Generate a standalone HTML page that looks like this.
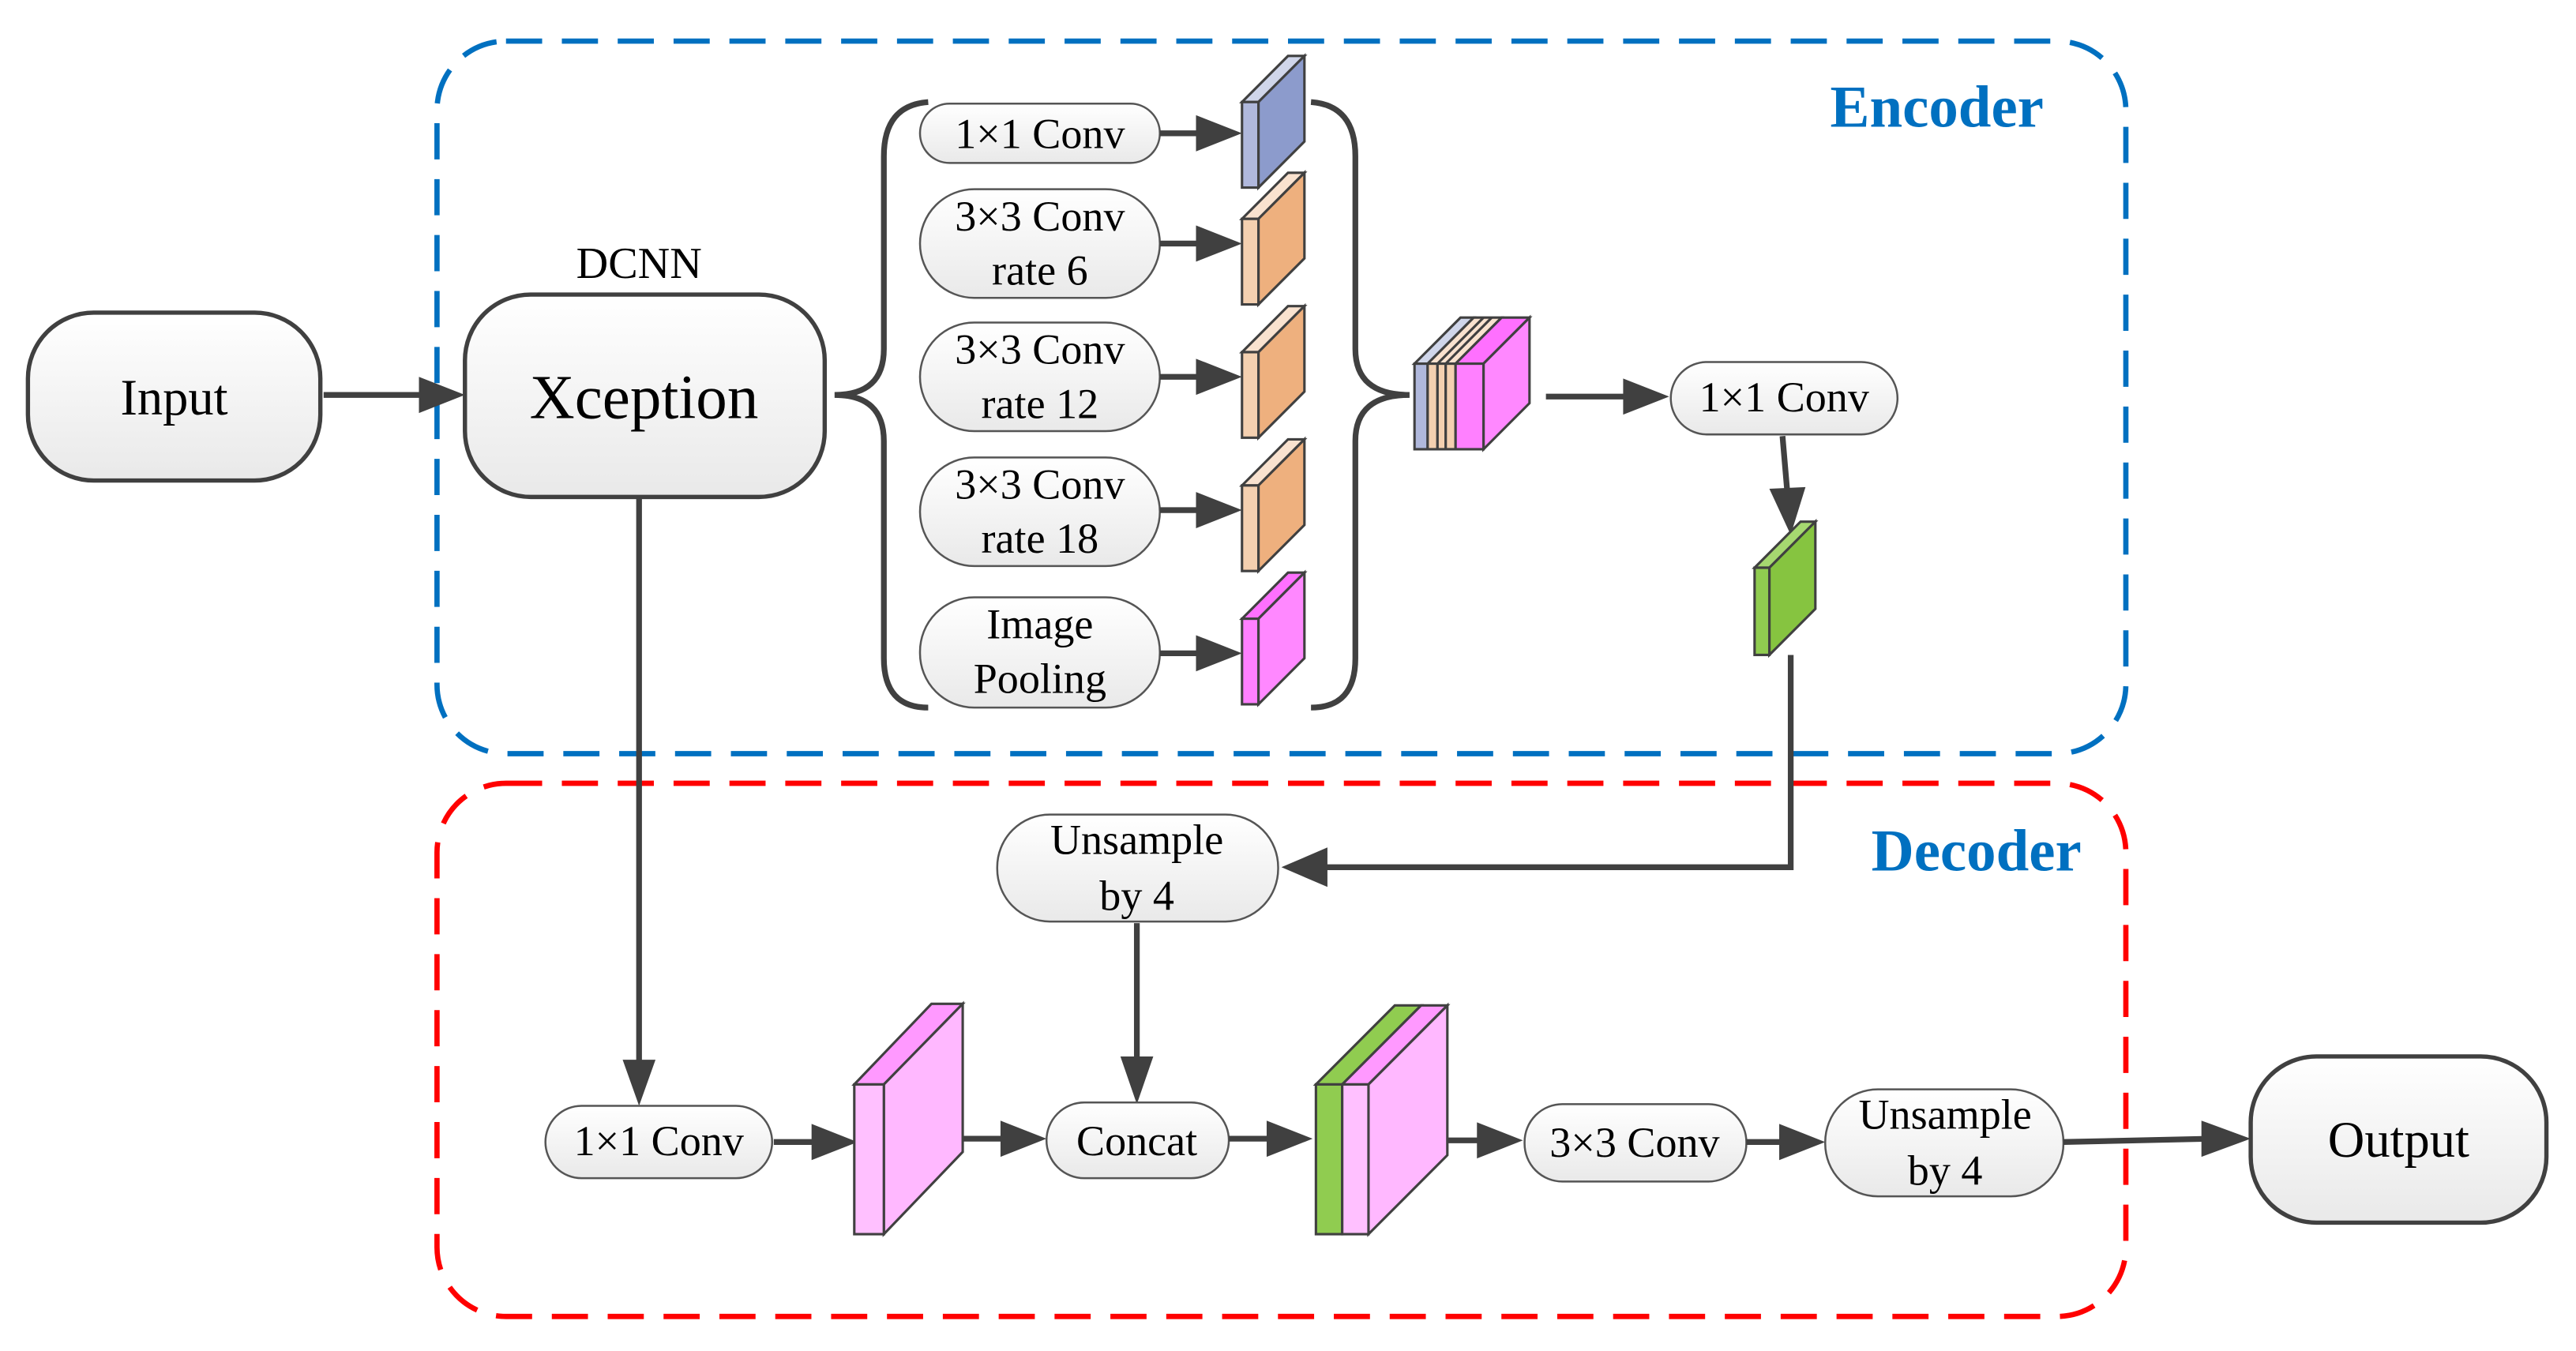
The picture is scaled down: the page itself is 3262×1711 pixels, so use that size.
<!DOCTYPE html>
<html><head><meta charset="utf-8"><style>html,body{margin:0;padding:0;background:#fff}svg{display:block}</style></head>
<body>
<svg width="3262" height="1711" viewBox="0 0 1568 821" preserveAspectRatio="none" xmlns="http://www.w3.org/2000/svg" font-family="Liberation Serif, serif">
<defs>
<linearGradient id="g" x1="0" y1="0" x2="0" y2="1"><stop offset="0" stop-color="#ffffff"/><stop offset="1" stop-color="#e9e9e9"/></linearGradient>
</defs>
<style>
.p{fill:url(#g);stroke:#555;stroke-width:1.2}
.b{fill:url(#g);stroke:#404040;stroke-width:2.6}
.l{stroke:#404040;stroke-width:3.5;fill:none}
.t{font-size:26px;text-anchor:middle;fill:#000}
.c{stroke:#404040;stroke-width:1.5}
</style>
<rect x="266" y="25" width="1028" height="433" rx="42" fill="none" stroke="#0070C0" stroke-width="3.2" stroke-dasharray="22 12"/>
<rect x="266" y="476" width="1028" height="324" rx="42" fill="none" stroke="#FF0000" stroke-width="3.2" stroke-dasharray="22 12"/>
<text x="1179" y="77" font-size="36" font-weight="bold" fill="#0070C0" text-anchor="middle">Encoder</text>
<text x="1203" y="529" font-size="36" font-weight="bold" fill="#0070C0" text-anchor="middle">Decoder</text>

<rect x="17" y="190" width="178" height="102" rx="40" class="b"/>
<text x="106" y="252" font-size="31" text-anchor="middle">Input</text>
<line x1="197" y1="240" x2="267" y2="240" class="l"/>
<path d="M255,229L283,240L255,251z" fill="#404040"/>
<rect x="283" y="179" width="219" height="123" rx="40" class="b"/>
<text x="392" y="254" font-size="38" text-anchor="middle">Xception</text>
<text x="389" y="169" font-size="27" text-anchor="middle">DCNN</text>

<path d="M565,62 Q538,64 538,95 L538,212 Q538,240 508,240 Q538,240 538,268 L538,400 Q538,430 565,430" class="l"/>
<path d="M798,62 Q825,64 825,95 L825,212 Q825,240 858,240 Q825,240 825,268 L825,400 Q825,430 798,430" class="l"/>

<rect x="560" y="63" width="146" height="36" rx="18" class="p"/>
<text x="633" y="90" class="t">1×1 Conv</text>
<rect x="560" y="115" width="146" height="66" rx="33" class="p"/>
<text x="633" y="140" class="t">3×3 Conv</text><text x="633" y="173" class="t">rate 6</text>
<rect x="560" y="196" width="146" height="66" rx="33" class="p"/>
<text x="633" y="221" class="t">3×3 Conv</text><text x="633" y="254" class="t">rate 12</text>
<rect x="560" y="278" width="146" height="66" rx="33" class="p"/>
<text x="633" y="303" class="t">3×3 Conv</text><text x="633" y="336" class="t">rate 18</text>
<rect x="560" y="363" width="146" height="67" rx="33" class="p"/>
<text x="633" y="388" class="t">Image</text><text x="633" y="421" class="t">Pooling</text>

<g>
<line x1="706" y1="81" x2="735" y2="81" class="l"/><path d="M728,70L756,81L728,92z" fill="#404040"/>
<line x1="706" y1="148" x2="735" y2="148" class="l"/><path d="M728,137L756,148L728,159z" fill="#404040"/>
<line x1="706" y1="229" x2="735" y2="229" class="l"/><path d="M728,218L756,229L728,240z" fill="#404040"/>
<line x1="706" y1="310" x2="735" y2="310" class="l"/><path d="M728,299L756,310L728,321z" fill="#404040"/>
<line x1="706" y1="397" x2="735" y2="397" class="l"/><path d="M728,386L756,397L728,408z" fill="#404040"/>
</g>

<g class="c">
<path d="M756,62L784,34L794,34L766,62z" fill="#d0d6ea"/><path d="M766,62L794,34L794,86L766,114z" fill="#8c9bcc"/><rect x="756" y="62" width="10" height="52" fill="#b0b8dc"/>
<path d="M756,133L784,105L794,105L766,133z" fill="#f9e2cf"/><path d="M766,133L794,105L794,157L766,185z" fill="#eeb07e"/><rect x="756" y="133" width="10" height="52" fill="#f4d0b0"/>
<path d="M756,214L784,186L794,186L766,214z" fill="#f9e2cf"/><path d="M766,214L794,186L794,238L766,266z" fill="#eeb07e"/><rect x="756" y="214" width="10" height="52" fill="#f4d0b0"/>
<path d="M756,295L784,267L794,267L766,295z" fill="#f9e2cf"/><path d="M766,295L794,267L794,319L766,347z" fill="#eeb07e"/><rect x="756" y="295" width="10" height="52" fill="#f4d0b0"/>
<path d="M756,376L784,348L794,348L766,376z" fill="#ff70ff"/><path d="M766,376L794,348L794,400L766,428z" fill="#ff88ff"/><rect x="756" y="376" width="10" height="52" fill="#ff80ff"/>
</g>

<g class="c">
<path d="M861,221L889,193L897,193L869,221z" fill="#d0d6ea"/>
<path d="M869,221L897,193L914,193L886,221z" fill="#f9e2cf"/>
<path d="M875,221L903,193M880,221L908,193" fill="none"/>
<path d="M886,221L914,193L931,193L903,221z" fill="#ff70ff"/>
<path d="M903,221L931,193L931,245L903,273z" fill="#ff88ff"/>
<rect x="861" y="221" width="8" height="52" fill="#b0b8dc"/>
<rect x="869" y="221" width="6" height="52" fill="#f4d0b0"/>
<rect x="875" y="221" width="5" height="52" fill="#f4d0b0"/>
<rect x="880" y="221" width="6" height="52" fill="#f4d0b0"/>
<rect x="886" y="221" width="17" height="52" fill="#ff80ff"/>
</g>
<line x1="941" y1="241" x2="995" y2="241" class="l"/><path d="M988,230L1016,241L988,252z" fill="#404040"/>
<rect x="1017" y="220" width="138" height="44" rx="22" class="p"/>
<text x="1086" y="250" class="t">1×1 Conv</text>
<line x1="1085" y1="265" x2="1088" y2="300" class="l"/><path d="M1077,297L1090,325L1099,296z" fill="#404040"/>
<g class="c">
<path d="M1068,345L1096,317L1105,317L1077,345z" fill="#a6d870"/>
<path d="M1077,345L1105,317L1105,370L1077,398z" fill="#86c440"/>
<rect x="1068" y="345" width="9" height="53" fill="#90cc50"/>
</g>
<path d="M1090,398L1090,527L800,527" class="l"/>
<path d="M808,515L780,527L808,539z" fill="#404040"/>
<rect x="607" y="495" width="171" height="65" rx="32" class="p"/>
<text x="692" y="519" class="t">Unsample</text><text x="692" y="553" class="t">by 4</text>
<line x1="692" y1="561" x2="692" y2="645" class="l"/><path d="M682,642L692,671L702,642z" fill="#404040"/>

<line x1="389" y1="303" x2="389" y2="650" class="l"/><path d="M379,644L389,672L399,644z" fill="#404040"/>
<rect x="332" y="672" width="138" height="44" rx="22" class="p"/>
<text x="401" y="702" class="t">1×1 Conv</text>
<line x1="471" y1="694" x2="500" y2="694" class="l"/><path d="M494,683L522,694L494,705z" fill="#404040"/>
<g class="c">
<path d="M520,659L567,610L586,610L538,659z" fill="#ff99ff"/>
<path d="M538,659L586,610L586,700L538,750z" fill="#ffb8ff"/>
<rect x="520" y="659" width="18" height="91" fill="#ffc0ff"/>
</g>
<line x1="586" y1="692" x2="615" y2="692" class="l"/><path d="M609,681L637,692L609,703z" fill="#404040"/>
<rect x="637" y="670" width="111" height="46" rx="23" class="p"/>
<text x="692" y="702" class="t">Concat</text>
<line x1="748" y1="692" x2="778" y2="692" class="l"/><path d="M771,681L799,692L771,703z" fill="#404040"/>
<g class="c">
<path d="M801,659L849,611L865,611L817,659z" fill="#90cc50"/>
<path d="M817,659L865,611L881,611L833,659z" fill="#ff99ff"/>
<path d="M833,659L881,611L881,702L833,750z" fill="#ffb8ff"/>
<rect x="801" y="659" width="16" height="91" fill="#90cc50"/>
<rect x="817" y="659" width="16" height="91" fill="#ffc0ff"/>
</g>
<line x1="881" y1="693" x2="906" y2="693" class="l"/><path d="M899,682L927,693L899,704z" fill="#404040"/>
<rect x="928" y="671" width="135" height="47" rx="23" class="p"/>
<text x="995" y="703" class="t">3×3 Conv</text>
<line x1="1063" y1="694" x2="1090" y2="694" class="l"/><path d="M1083,683L1111,694L1083,705z" fill="#404040"/>
<rect x="1111" y="662" width="145" height="65" rx="32" class="p"/>
<text x="1184" y="686" class="t">Unsample</text><text x="1184" y="720" class="t">by 4</text>
<line x1="1256" y1="694" x2="1345" y2="692" class="l"/><path d="M1340,681L1370,692L1340,703z" fill="#404040"/>
<rect x="1370" y="642" width="180" height="101" rx="40" class="b"/>
<text x="1460" y="703" font-size="31" text-anchor="middle">Output</text>
</svg>
</body></html>
